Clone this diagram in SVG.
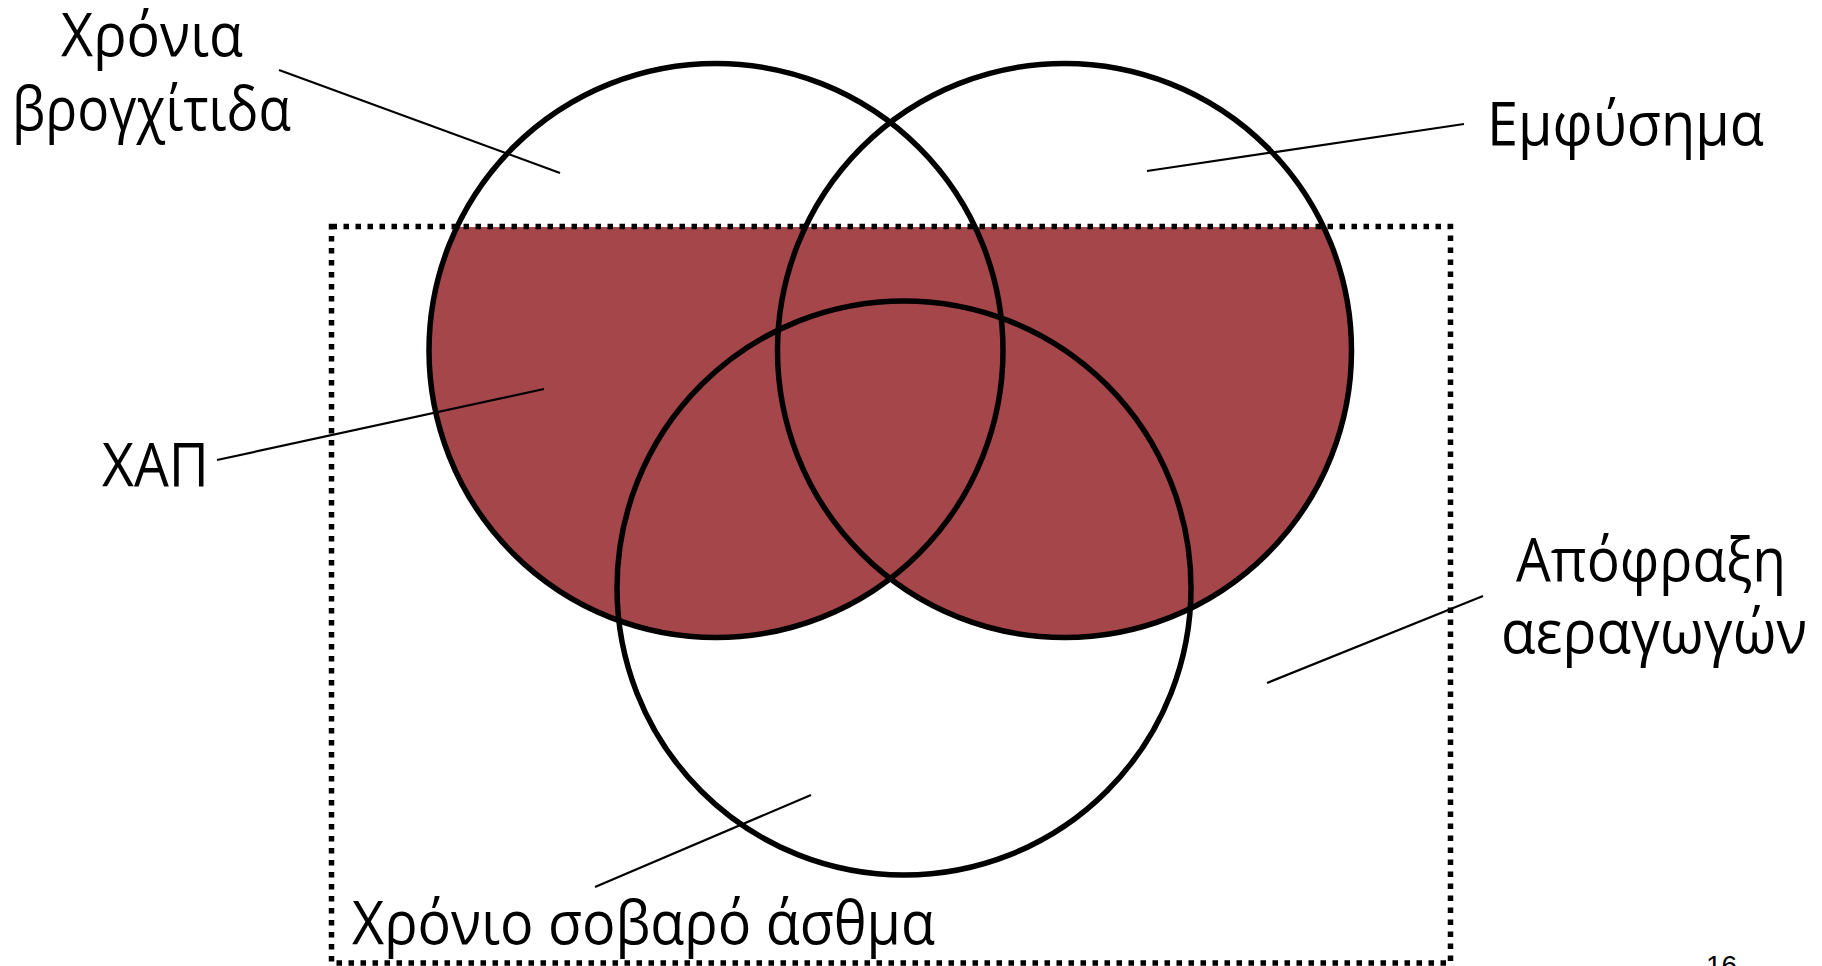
<svg xmlns="http://www.w3.org/2000/svg" width="1822" height="966" viewBox="0 0 1822 966">
<style>
.lbl{font-family:"Open Sans","Noto Sans","Liberation Sans",sans-serif;font-size:60px;fill:#000}
.ring{fill:none;stroke:#000;stroke-width:5.5}
.lead{stroke:#000;stroke-width:2.2;fill:none}
.fillc{fill:#A5464A}
</style>
<defs>
<clipPath id="box"><rect x="331.5" y="227" width="1119" height="740"/></clipPath>
</defs>
<rect width="1822" height="966" fill="#fff"/>
<g id="copd-fill" clip-path="url(#box)">
<circle class="fillc" cx="716" cy="350.5" r="287"/>
<circle class="fillc" cx="1064.5" cy="350.5" r="287"/>
</g>
<g id="bronchitis"><circle class="ring" cx="716" cy="350.5" r="287"/></g>
<g id="emphysema"><circle class="ring" cx="1064.5" cy="350.5" r="287"/></g>
<g id="asthma"><circle class="ring" cx="904" cy="588" r="287"/></g>
<g id="obstruction"><rect x="331.5" y="226.5" width="1119" height="736.5" fill="none" stroke="#000" stroke-width="5.5" stroke-dasharray="5.5 6.5"/></g>
<g id="connectors">
<line class="lead" x1="279" y1="70" x2="560" y2="173"/>
<line class="lead" x1="1147" y1="171" x2="1464" y2="124"/>
<line class="lead" x1="217" y1="460" x2="544" y2="389"/>
<line class="lead" x1="1267" y1="683" x2="1483" y2="596"/>
<line class="lead" x1="595" y1="887" x2="811" y2="795"/>
</g>
<g id="labels">
<text class="lbl" x="61" y="56" textLength="182" lengthAdjust="spacingAndGlyphs">Χρόνια</text>
<text class="lbl" x="12" y="130" textLength="279" lengthAdjust="spacingAndGlyphs">βρογχίτιδα</text>
<text class="lbl" x="1487" y="145" textLength="277" lengthAdjust="spacingAndGlyphs">Εμφύσημα</text>
<text class="lbl" x="102" y="486" textLength="107" lengthAdjust="spacingAndGlyphs">ΧΑΠ</text>
<text class="lbl" x="1516" y="581" textLength="270" lengthAdjust="spacingAndGlyphs">Απόφραξη</text>
<text class="lbl" x="1501" y="653" textLength="306" lengthAdjust="spacingAndGlyphs">αεραγωγών</text>
<text class="lbl" x="352" y="944" textLength="583" lengthAdjust="spacingAndGlyphs">Χρόνιο σοβαρό άσθμα</text>
<text x="1706" y="975" style="font-family:'Liberation Sans',Arial,sans-serif;font-size:28px;fill:#000">16</text>
</g>
</svg>
